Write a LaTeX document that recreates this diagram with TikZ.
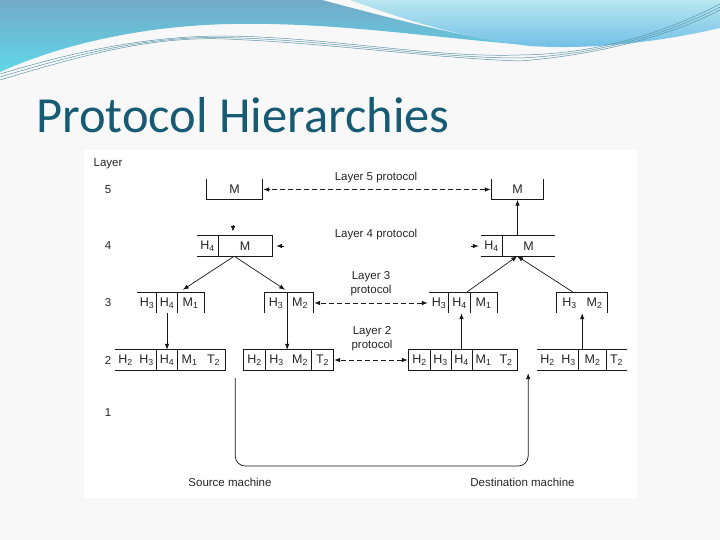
\documentclass[tikz,border=0pt]{standalone}
\usepackage{fontspec}
\setmainfont{Liberation Sans}
\newfontfamily\titlefont{Carlito}
\usepackage{tikz}
\usetikzlibrary{positioning,arrows.meta,calc}
\definecolor{titleteal}{RGB}{22,90,115}
\definecolor{slidebg}{RGB}{248,248,248}
\definecolor{waveline}{RGB}{90,150,170}

\begin{document}
\begin{tikzpicture}[x=1pt, y=-1pt,
  cell/.style={inner sep=0pt, minimum height=20pt, font=\fontsize{12.5}{14}\selectfont, text=black!85},
  lbl/.style={inner sep=0pt, font=\fontsize{11.5}{14}\selectfont, text=black!85},
  box/.style={black!90, line width=0.8pt},
  arr/.style={black!90, line width=0.7pt, -{Latex[length=6pt,width=4.5pt]}},
  proto/.style={black!90, line width=0.7pt, dash pattern=on 5pt off 3pt, {Latex[length=6pt,width=4.5pt]}-{Latex[length=6pt,width=4.5pt]}, shorten <=1pt, shorten >=1pt},
  wave/.style={waveline, line width=0.5pt}]
\useasboundingbox (0,0) rectangle (720,540);
\fill[slidebg] (0,0) rectangle (720,540);
\shade[top color={rgb,255:red,115;green,170;blue,200}, bottom color={rgb,255:red,95;green,215;blue,232}] (0,0) -- (322,0) .. controls (390,18) and (450,34) .. (515,44) .. controls (420,36) and (330,22) .. (230,24) .. controls (140,26) and (60,45) .. (0,72) -- cycle;
\shade[top color={rgb,255:red,185;green,230;blue,240}, bottom color={rgb,255:red,110;green,190;blue,230}] (350,0) -- (720,0) -- (720,28) .. controls (660,42) and (590,50) .. (530,46) .. controls (460,38) and (400,18) .. (350,0) -- cycle;
\foreach \d in {0,3,6} \draw[wave] (0,74+\d) .. controls (80,50+\d) and (150,36) .. (225,36+\d/2) .. controls (330,37+\d) and (430,58) .. (520,55+\d) .. controls (610,54) and (680,25+\d) .. (720,4+\d);
\node[anchor=base west, inner sep=0pt, text=titleteal, font=\titlefont\fontsize{50.5}{56}\selectfont] (title) at (36,133) {Protocol Hierarchies};
\fill[white] (84,150) rectangle (637,498);

\node[lbl] (lay) at (108,164) {Layer};
\foreach \k/\yy in {5/189.5, 4/246, 3/303, 2/360, 1/413} \node[lbl] (n\k) at (108,\yy) {\k};

\node[cell, minimum width=55] (L5a) at (234.5,189.5) {M};
\node[cell, minimum width=51] (L5b) at (517.5,189.5) {M};
\foreach \n/\cx/\w/\txt in {L4aH4/207.5/21/H\textsubscript{4}, L4aM/245/54/M, L4bH4/491.5/21/H\textsubscript{4}, L4bM/528.5/53/M}
  \node[cell, minimum width=\w] (\n) at (\cx,246) {\txt};
\foreach \n/\cx/\w/\txt in {L3aH3/147/20/H\textsubscript{3}, L3aH4/167/20/H\textsubscript{4}, L3aM1/190.5/27/M\textsubscript{1}, L3bH3/276/22/H\textsubscript{3}, L3bM2/300/26/M\textsubscript{2}, L3cH3/439/20/H\textsubscript{3}, L3cH4/459.5/21/H\textsubscript{4}, L3cM1/483.5/27/M\textsubscript{1}, L3dH3/569.5/25/H\textsubscript{3}, L3dM2/594.5/25/M\textsubscript{2}}
  \node[cell, minimum width=\w] (\n) at (\cx,303) {\txt};
\foreach \n/\cx/\w/\txt in {L2aH2/125.5/21/H\textsubscript{2}, L2aH3/146.5/21/H\textsubscript{3}, L2aH4/167/20/H\textsubscript{4}, L2aM1/189.5/25/M\textsubscript{1}, L2aT2/213.5/23/T\textsubscript{2}, L2bH2/254.5/21/H\textsubscript{2}, L2bH3/276.5/23/H\textsubscript{3}, L2bM2/300/24/M\textsubscript{2}, L2bT2/322.5/21/T\textsubscript{2}, L2cH2/419.5/21/H\textsubscript{2}, L2cH3/440.5/21/H\textsubscript{3}, L2cH4/461.5/21/H\textsubscript{4}, L2cM1/483.5/23/M\textsubscript{1}, L2cT2/506/22/T\textsubscript{2}, L2dH2/547.5/21/H\textsubscript{2}, L2dH3/568.5/21/H\textsubscript{3}, L2dM2/592.5/27/M\textsubscript{2}, L2dT2/616.5/21/T\textsubscript{2}}
  \node[cell, minimum width=\w] (\n) at (\cx,360) {\txt};

\draw[box] (L5a.north west) -- (L5a.south west) -- (L5a.south east) -- (L5a.north east);
\draw[box] (L5b.north west) -- (L5b.south west) -- (L5b.south east) -- (L5b.north east);
\draw[box] (L4aH4.north west) -- (L4aM.north east) -- (L4aM.south east) -- (L4aH4.south west) (L4aH4.north east) -- (L4aH4.south east);
\draw[box] (L4bH4.north west) -- (L4bM.north east) (L4bH4.south west) -- (L4bM.south east) (L4bH4.north east) -- (L4bH4.south east);
\draw[box] (L3aH3.north west) -- (L3aM1.north east) -- (L3aM1.south east) (L3aH4.north west) -- (L3aH4.south west) (L3aH4.north east) -- (L3aH4.south east);
\draw[box] (L3bH3.south west) -- (L3bH3.north west) -- (L3bM2.north east) -- (L3bM2.south east) (L3bH3.north east) -- (L3bH3.south east);
\draw[box] (L3cH3.north west) -- (L3cM1.north east) -- (L3cM1.south east) (L3cH4.north west) -- (L3cH4.south west) (L3cH4.north east) -- (L3cH4.south east);
\draw[box] (L3dH3.south west) -- (L3dH3.north west) -- (L3dM2.north east) -- (L3dM2.south east);
\draw[box] (L2aH2.north west) -- (L2aT2.north east) -- (L2aT2.south east) -- (L2aH2.south west) (L2aH4.north west) -- (L2aH4.south west) (L2aH4.north east) -- (L2aH4.south east);
\draw[box] (L2bH2.north west) rectangle (L2bT2.south east) (L2bH2.north east) -- (L2bH2.south east) (L2bT2.north west) -- (L2bT2.south west);
\draw[box] (L2cH2.north west) rectangle (L2cT2.south east);
\foreach \c in {L2cH2, L2cH3, L2cH4} \draw[box] (\c.north east) -- (\c.south east);
\draw[box] (L2dH2.north west) -- (L2dT2.north east) (L2dH2.south west) -- (L2dT2.south east) (L2dM2.north west) -- (L2dM2.south west) (L2dM2.north east) -- (L2dM2.south east);

\node[lbl] (p5) at (376,178) {Layer 5 protocol};
\node[lbl] (p4) at (376,235) {Layer 4 protocol};
\node[lbl, align=center] (p3) at (371,284) {Layer 3\\protocol};
\node[lbl, align=center] (p2) at (372,339) {Layer 2\\protocol};
\draw[proto] (L5b.west) -- (L5a.east);
\draw[proto] (L3cH3.west) -- (L3bM2.east);
\draw[proto] (L2cH2.west) -- (L2bT2.east);

\draw[arr] ($(L4aM.north)+(-12,-11)$) -- ($(L4aM.north)+(-12,-4)$);
\draw[arr] ($(L4aM.east)+(12,0)$) -- ($(L4aM.east)+(4,0)$);
\draw[arr] ($(L4bH4.west)+(-10,0)$) -- ($(L4bH4.west)+(-2,0)$);
\coordinate (s4) at ($(L4aH4.south east)+(16,0)$);
\coordinate (d4) at ($(L4bH4.south east)+(15,0)$);
\draw[arr] (s4) -- ($(L3aM1.north west)+(6,-3)$);
\draw[arr] (s4) -- ($(L3bH3.north east)+(-2,-3)$);
\draw[arr] ($(L3cH4.north east)+(-3,-1)$) -- (d4);
\draw[arr] ($(L3dH3.north)+(3,-1)$) -- (d4);
\draw[arr] (L4bM.north -| L5b.south) -- (L5b.south);
\draw[arr] (L3aH4.south) -- (L2aH4.north);
\draw[arr] (L3bH3.south east) -- (L3bH3.south east |- L2bM2.north);
\draw[arr] (L2cH4.north) -- (L2cH4.north |- L3cH4.south);
\draw[arr] (L3dH3.south east |- L2dM2.north) -- (L3dH3.south east);

\coordinate (src) at ($(L2aT2.south east)+(10,8)$);
\coordinate (dst) at ($(L2cT2.south east)+(11,3)$);
\coordinate (bot) at (380,466);
\draw[arr, rounded corners=10pt] (src) |- (bot) -| (dst);
\node[lbl] (srcm) at (230,482) {Source machine};
\node[lbl] (dstm) at (522.5,482) {Destination machine};
\end{tikzpicture}
\end{document}
